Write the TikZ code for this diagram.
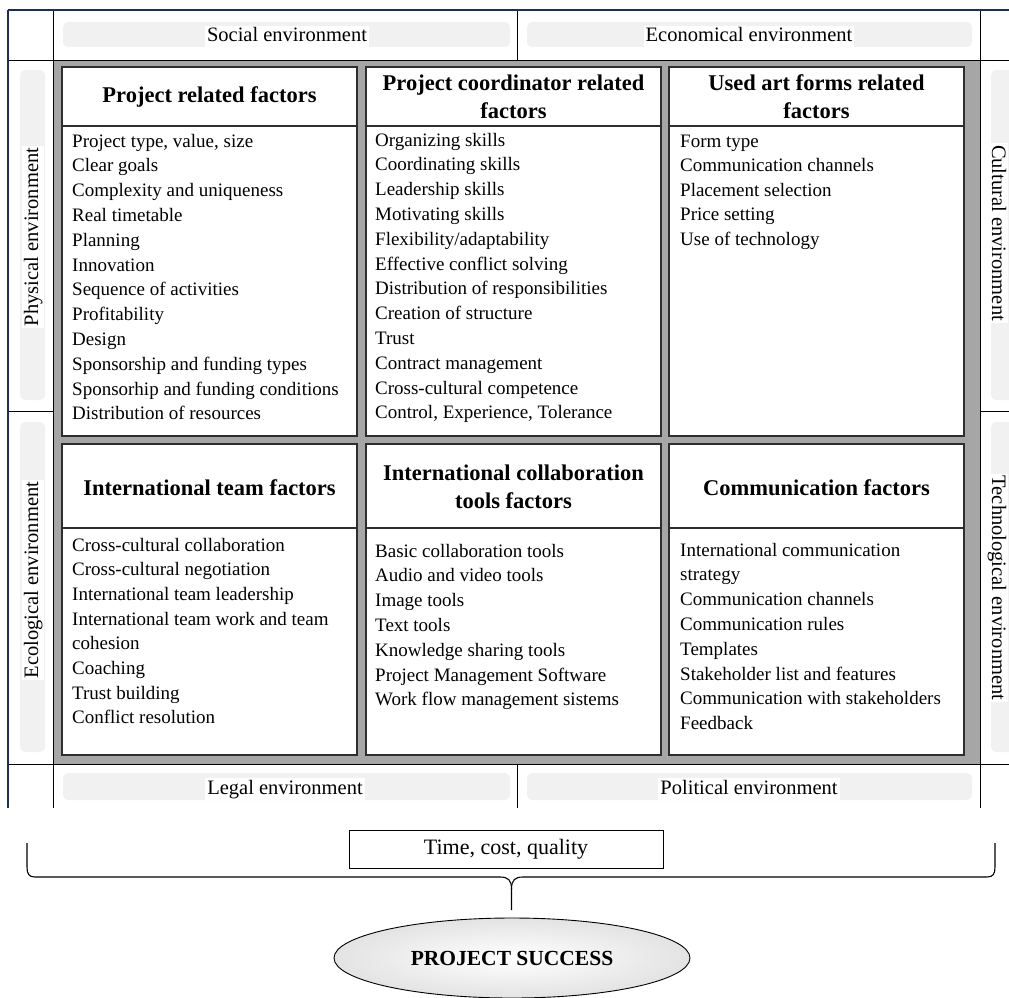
\documentclass[tikz,border=0pt]{standalone}
\usepackage{fontspec}
\setmainfont{Liberation Serif}
\usetikzlibrary{shapes.geometric}
\definecolor{band}{HTML}{A6A6A6}
\definecolor{boxline}{HTML}{2E2E2E}
\definecolor{tabline}{HTML}{1E2F4F}
\definecolor{faint}{HTML}{F1F1F1}
\tikzset{
  item/.style={anchor=base west, inner sep=0pt, font=\fontsize{19}{22}\selectfont},
  head/.style={inner sep=0pt, align=center, font=\fontsize{22.5}{28}\selectfont\bfseries},
  env/.style={inner sep=2pt, fill=white, text height=14pt, text depth=4pt, font=\fontsize{20.5}{24}\selectfont},
  factorbox/.style={draw=boxline, line width=1.6pt, fill=white},
  tline/.style={draw=black, line width=0.9pt},
  fbg/.style={fill=faint, rounded corners=5pt},
}
\begin{document}
\begin{tikzpicture}[x=1pt,y=-1pt]
\useasboundingbox (0,0) rectangle (1009,998);
% environment background placeholders
\fill[fbg] (63,22) rectangle (510,47);
\fill[fbg] (527,22) rectangle (972,47);
\fill[fbg] (63,773) rectangle (510,800);
\fill[fbg] (527,773) rectangle (972,800);
\fill[fbg] (20,70) rectangle (45,400);
\fill[fbg] (20,422) rectangle (45,752);
\fill[fbg] (991,70) rectangle (1015,400);
\fill[fbg] (991,422) rectangle (1015,752);
% grey band
\fill[band] (53,60) rectangle (980,764);
% table lines
\draw[tline] (53,10) -- (53,808);
\draw[tline] (980,10) -- (980,808);
\draw[tline] (517,10) -- (517,60);
\draw[tline] (517,764) -- (517,808);
\draw[tline] (8,60) -- (1009,60);
\draw[tline] (8,764) -- (1009,764);
\draw[tline] (8,411) -- (53,411);
\draw[tline] (980,411) -- (1009,411);
\draw[draw=tabline, line width=1.2pt] (8,10) -- (1009,10);
\draw[draw=tabline, line width=1.2pt] (8,10) -- (8,808);
% environment labels
\node[env] (social) at (287,37) {Social environment};
\node[env] (econ) at (749,37) {Economical environment};
\node[env] (legal) at (285,789) {Legal environment};
\node[env] (polit) at (749,789) {Political environment};
\node[env, rotate=90] (phys) at (33,237) {Physical environment};
\node[env, rotate=90] (ecol) at (33,580) {Ecological environment};
\node[env, rotate=-90] (cult) at (997,233) {Cultural environment};
\node[env, rotate=-90] (tech) at (997,588) {Technological environment};
% factor boxes
\draw[factorbox] (62,67) rectangle (357,436);
\draw[factorbox] (366,67) rectangle (661,436);
\draw[factorbox] (669,67) rectangle (964,436);
\draw[factorbox] (62,444) rectangle (357,755);
\draw[factorbox] (366,444) rectangle (661,755);
\draw[factorbox] (669,444) rectangle (964,755);
\draw[boxline, line width=1.2pt] (62,126) -- (357,126);
\draw[boxline, line width=1.2pt] (366,126) -- (661,126);
\draw[boxline, line width=1.2pt] (669,126) -- (964,126);
\draw[boxline, line width=1.2pt] (62,528) -- (357,528);
\draw[boxline, line width=1.2pt] (366,528) -- (661,528);
\draw[boxline, line width=1.2pt] (669,528) -- (964,528);
% headers
\node[head] (h1) at (209.5,97) {Project related factors};
\node[head] (h2) at (513.5,97) {Project coordinator related\\factors};
\node[head] (h3) at (816.5,97) {Used art forms related\\factors};
\node[head] (h4) at (209.5,488) {International team factors};
\node[head] (h5) at (513.5,487) {International collaboration\\tools factors};
\node[head] (h6) at (816.5,488) {Communication factors};
% items
\foreach \t [count=\i] in {{Project type, value, size},Clear goals,Complexity and uniqueness,Real timetable,Planning,Innovation,Sequence of activities,Profitability,Design,Sponsorship and funding types,Sponsorhip and funding conditions,Distribution of resources}
  \node[item] (a\i) at (72,{147+(\i-1)*24.8}) {\t};
\foreach \t [count=\i] in {Organizing skills,Coordinating skills,Leadership skills,Motivating skills,Flexibility/adaptability,Effective conflict solving,Distribution of responsibilities,Creation of structure,Trust,Contract management,Cross-cultural competence,{Control, Experience, Tolerance}}
  \node[item] (b\i) at (375,{146+(\i-1)*24.8}) {\t};
\foreach \t [count=\i] in {Form type,Communication channels,Placement selection,Price setting,Use of technology}
  \node[item] (c\i) at (680,{147+(\i-1)*24.6}) {\t};
\foreach \t [count=\i] in {Cross-cultural collaboration,Cross-cultural negotiation,International team leadership,International team work and team,cohesion,Coaching,Trust building,Conflict resolution}
  \node[item] (d\i) at (72,{551+(\i-1)*24.7}) {\t};
\foreach \t [count=\i] in {Basic collaboration tools,Audio and video tools,Image tools,Text tools,Knowledge sharing tools,Project Management Software,Work flow management sistems}
  \node[item] (e\i) at (375,{557+(\i-1)*24.8}) {\t};
\foreach \t [count=\i] in {International communication,strategy,Communication channels,Communication rules,Templates,Stakeholder list and features,Communication with stakeholders,Feedback}
  \node[item] (f\i) at (680,{556+(\i-1)*24.8}) {\t};
% time, cost, quality
\node[draw, line width=0.9pt, minimum width=314pt, minimum height=38pt, inner sep=0pt,
      font=\fontsize{22}{26}\selectfont] (tcq) at (506,849) {Time, cost, quality};
% brace
\coordinate (bl) at (27,843);
\coordinate (br) at (995,843);
\coordinate (tip) at (511.5,910);
\draw[line width=1.1pt] (bl) -- (27,867) .. controls (27,874) and (29,877) .. (35,877)
  -- (500,877) .. controls (508,877) and (511.5,880) .. (511.5,889) -- (tip);
\draw[line width=1.1pt] (br) -- (995,867) .. controls (995,874) and (993,877) .. (987,877)
  -- (523,877) .. controls (515,877) and (511.5,880) .. (511.5,889);
% project success
\node[ellipse, draw, line width=0.9pt, minimum width=356pt, minimum height=80pt,
      shading=radial, inner color=white, outer color=gray!22,
      font=\fontsize{21.5}{26}\selectfont\bfseries] (ps) at (512,958) {PROJECT SUCCESS};
\end{tikzpicture}
\end{document}
